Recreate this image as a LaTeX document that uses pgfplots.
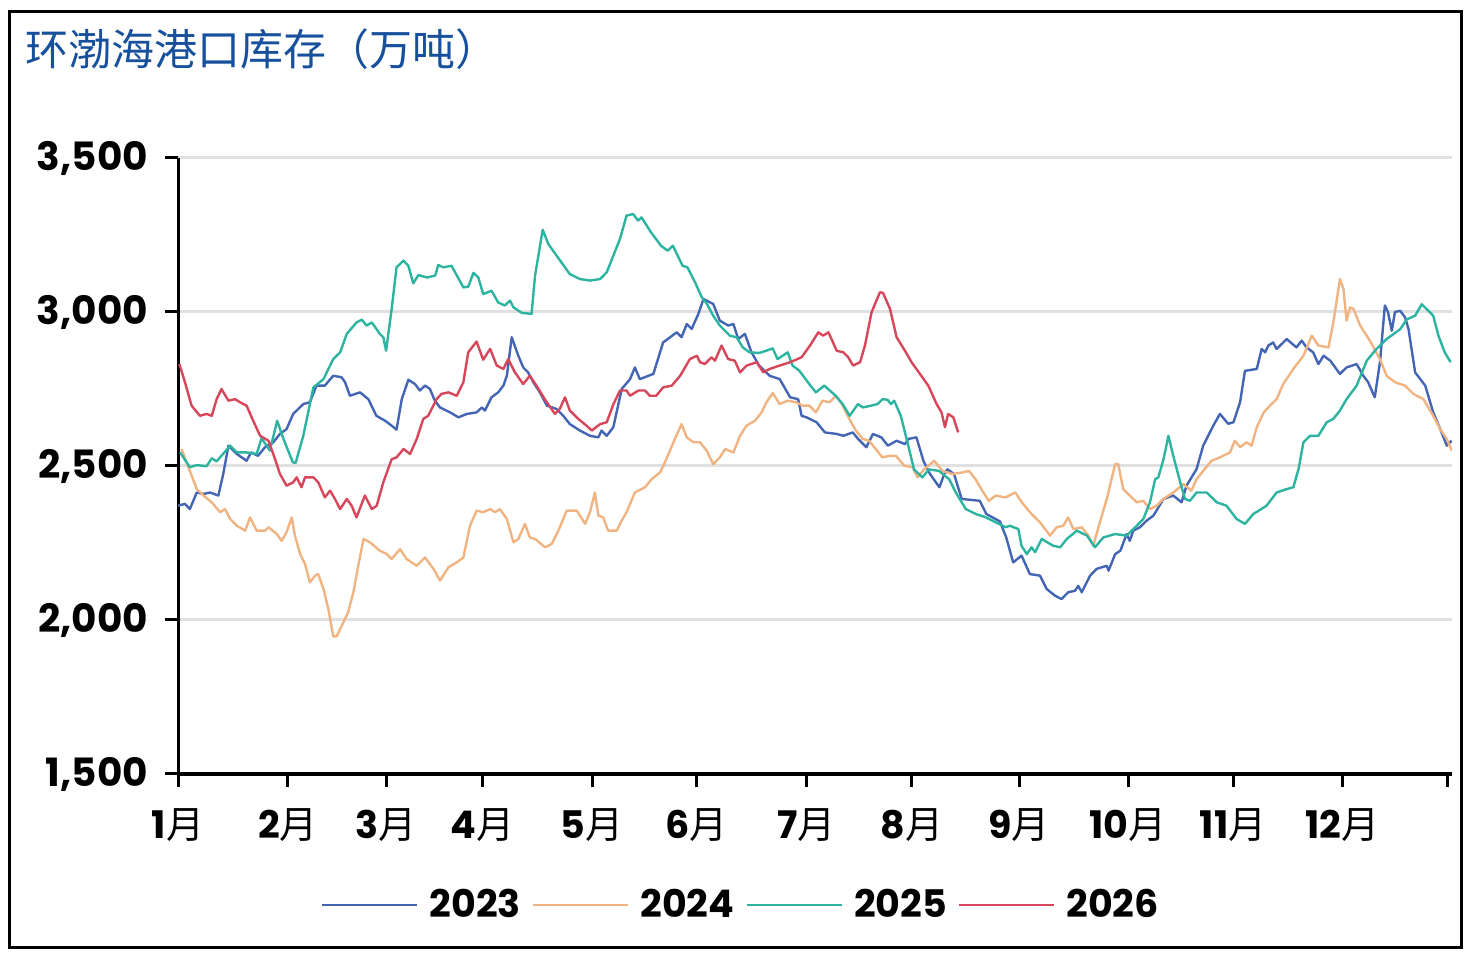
\documentclass[border=0pt]{standalone}
\usepackage{fontspec}
\setmainfont{Poppins}
\newfontfamily\cjk{Noto Sans CJK SC}
\usepackage{pgfplots}
\pgfplotsset{compat=1.18}
\usepackage{pgfplotstable}
\definecolor{c23}{HTML}{4464B4}
\definecolor{c24}{HTML}{F0B482}
\definecolor{c25}{HTML}{2DB4A0}
\definecolor{c26}{HTML}{D7465A}
\definecolor{ttl}{HTML}{17509C}
\newcommand{\m}[1]{{\bfseries #1}{\cjk 月}}

\pgfplotstableread{
x y
0 2371
2 2377
3.4 2360
5.4 2414
7.3 2409
9.2 2414
11.6 2404
13 2474
14.5 2566
16.9 2539
19.7 2517
21 2544
23 2533
25 2561
27.4 2577
29.3 2604
31.2 2620
33.1 2669
36 2701
37.9 2707
39.8 2761
42.2 2761
44.6 2793
47 2788
48 2772
49.4 2728
52.3 2739
54.7 2717
57 2663
59.5 2647
61.4 2631
62.8 2618
64.3 2717
66.2 2780
68.1 2766
69.5 2745
71 2761
72.4 2750
73.8 2712
75.3 2690
78.2 2674
80.6 2658
83 2669
85.8 2674
87.3 2690
88.2 2680
90.1 2723
92 2739
93.5 2761
94.5 2793
95.9 2918
97.8 2858
99.2 2820
100.6 2804
102.1 2772
104 2739
106 2696
108.8 2685
110.7 2663
112.6 2636
115.5 2615
118.4 2598
120.8 2593
121.7 2615
123.2 2598
125.1 2626
127.5 2750
129.9 2782
131.3 2820
132.7 2782
136.6 2799
139.4 2901
143.3 2934
144.7 2918
146.2 2961
147.6 2945
149.5 2993
151 3042
153.8 3026
155.7 2972
158.1 2956
159.6 2961
161 2912
162.9 2929
164.8 2869
167 2826
170 2793
172.9 2782
175.9 2723
178.2 2717
179.2 2663
180.6 2658
183.5 2642
185.9 2609
189.3 2604
191.2 2598
193.9 2609
195.4 2588
197.8 2561
199.7 2604
202.1 2593
204 2566
206.5 2582
208.9 2571
209.9 2588
212.2 2593
214.2 2517
216.1 2474
218.8 2431
220.2 2474
221.1 2489
223 2474
225.2 2393
230.4 2387
232.3 2344
236.2 2320
238 2268
240 2187
242.4 2209
244.8 2149
247.7 2144
249.6 2101
252 2079
253.9 2068
255.8 2090
257.8 2095
258.7 2111
259.7 2090
262.1 2144
264 2166
266.9 2176
267.4 2160
269.3 2214
270.8 2225
272.6 2279
273.5 2257
274.5 2290
276.4 2301
278.3 2322
280.3 2339
283.2 2393
286 2404
288.4 2382
289.8 2436
292.7 2490
294.6 2566
297.5 2631
299.4 2669
301.8 2637
303.3 2642
305.2 2707
306.6 2809
310 2815
311.4 2880
312.4 2869
313.3 2891
314.7 2901
315.7 2880
318.6 2912
321.4 2885
322.9 2907
324.3 2885
326.2 2869
327.7 2831
329.2 2858
331.1 2842
333.9 2799
335.8 2820
338.7 2831
340.6 2793
342 2772
343.9 2723
345.4 2837
346.8 3021
347.7 3000
348.8 2939
349.7 3000
351.2 3004
352.6 2983
353.6 2945
355.5 2804
358.4 2761
360.7 2674
362.7 2620
364.6 2566
366 2582
}\dA

\pgfplotstableread{
x y
1 2555
3 2496
5.4 2425
7.3 2404
9.7 2382
12.1 2350
13.5 2360
15 2328
16.9 2306
19.3 2290
20.7 2333
22.6 2290
25 2290
26 2301
28.4 2279
29.8 2257
31.2 2285
32.7 2333
33.6 2274
35.1 2214
36.5 2182
37.9 2122
39.4 2144
40.3 2149
41.8 2101
43.2 2036
44.6 1947
45.6 1947
47.5 1992
48.9 2025
50.4 2090
51.8 2176
53.3 2263
55.2 2252
58 2225
60 2214
61.4 2198
63.8 2230
65.7 2198
68.6 2176
71 2203
73.4 2166
75.3 2128
77.7 2171
80.1 2187
82 2203
83.9 2306
85.8 2355
87.7 2350
89.7 2360
91.1 2350
92.5 2360
94.5 2328
96.4 2252
97.8 2263
99.7 2312
101.1 2268
102.6 2263
105.5 2236
107.4 2247
109.3 2290
111.7 2355
114.6 2355
115.5 2339
117 2312
118.4 2350
119.8 2414
120.8 2339
122.2 2333
123.6 2290
126.1 2290
127 2312
128.9 2350
131.3 2414
134.2 2431
136.1 2457
138.5 2479
139.9 2511
142.8 2588
144.7 2636
146.2 2593
148.1 2577
150 2577
151.9 2550
153.8 2506
155.7 2528
157.2 2555
159.6 2544
161.5 2598
163.4 2631
165.8 2647
167.7 2674
169.1 2707
170.9 2737
172.9 2701
175.2 2712
177.6 2707
179.5 2696
181.4 2696
183.3 2674
185.2 2712
187.2 2707
189.1 2728
191 2696
192.9 2653
194.8 2615
196.7 2588
198.6 2582
200.5 2555
202.4 2528
204.4 2533
206.3 2533
208.7 2501
211.1 2496
212.5 2463
214.4 2489
217.3 2517
219.7 2484
222.5 2474
225.4 2479
227.3 2484
229.2 2457
231.1 2420
233 2387
235 2404
237.8 2398
240.6 2414
242.5 2382
244.8 2350
247.7 2317
250.6 2274
252.5 2301
254.4 2306
255.8 2333
257.3 2295
259.7 2301
261.6 2274
263 2241
264.9 2317
266.9 2393
269.3 2506
270.2 2506
271.6 2425
273.5 2404
275.5 2382
277.4 2387
279.3 2360
281.2 2371
283.2 2393
286 2414
288.9 2441
291.2 2420
292.7 2457
294.6 2484
297 2517
299.4 2528
302.3 2544
303.7 2582
305.2 2561
307.1 2577
308.5 2566
310 2626
312 2674
313.8 2696
315.7 2717
317.6 2766
320.5 2815
323.4 2858
325.8 2923
327.7 2891
330.6 2885
332 2966
333.9 3107
334.9 3075
335.8 2972
336.8 3015
337.8 3010
339.7 2956
342.5 2907
345.4 2847
347.3 2793
349.7 2772
352.6 2761
355 2734
357.9 2717
360.7 2663
362.7 2620
364.6 2588
366 2550
}\dB

\pgfplotstableread{
x y
0.6 2544
3.4 2496
5.4 2503
8.2 2499
9.7 2525
11.1 2515
15 2566
16.9 2544
19.7 2544
22.6 2539
24 2590
26.4 2550
28.5 2647
30.3 2588
33 2512
33.8 2510
36 2598
38.9 2755
41.8 2782
44.6 2847
46.6 2869
48.5 2929
51.3 2966
52.8 2975
54.2 2956
55.7 2966
58 2929
59 2918
59.8 2874
61.4 3010
62.8 3145
64.8 3167
66.2 3150
67.6 3093
69.1 3120
71.5 3112
73.9 3118
74.8 3153
76.2 3145
78.6 3150
82 3080
83.4 3082
84.9 3127
86.3 3112
87.7 3058
90.1 3069
92 3031
93.9 3021
95.4 3037
96.4 3015
98.8 2997
101.6 2994
102.6 3118
104.8 3267
106.4 3221
109.8 3167
112.6 3123
115.5 3107
118.4 3102
121.3 3107
123.2 3129
127 3237
128.9 3313
130.8 3318
132.2 3297
133.2 3307
135.9 3259
138.8 3215
140.7 3199
142.2 3215
145 3150
146.4 3145
148.6 3096
150.5 3048
152 3026
153.8 2988
155.7 2956
158.6 2923
160.5 2918
162.3 2885
164.2 2869
167 2867
169 2874
170.9 2882
172.3 2847
175.2 2869
176.6 2826
178.5 2810
181.4 2766
183.3 2739
185.7 2761
189 2728
191 2701
193 2663
195.4 2701
196.8 2690
199.2 2696
201 2701
202.5 2717
203.9 2715
204.9 2701
205.8 2712
207.7 2663
209.6 2577
211.5 2489
213.9 2463
215.8 2489
218.7 2484
221.6 2457
223.5 2414
226.4 2360
229.3 2344
232.2 2333
235 2317
237.9 2301
239 2306
241.5 2295
242.4 2241
243.9 2214
245.3 2236
246.3 2220
248.2 2263
251.5 2241
253.5 2236
255.4 2263
258.3 2290
261.2 2274
263.5 2236
265.9 2268
269.3 2279
272.6 2274
275.5 2306
277.4 2328
279.3 2382
280.8 2457
281.7 2463
283.2 2522
284.6 2598
286 2533
288 2447
289.4 2393
290.8 2387
292.7 2414
295.6 2414
298.5 2382
301.3 2371
304.2 2328
306.6 2312
309 2344
312.8 2371
315.7 2414
318.6 2425
320.5 2431
322 2490
323.4 2577
325.3 2598
327.7 2598
330.1 2642
332 2653
333.9 2680
335.8 2717
338.7 2761
341.6 2842
344.4 2880
347.3 2912
351.2 2944
353.1 2976
355.5 2988
357.4 3025
359.3 3004
360.7 2988
362.2 2923
364 2869
365.7 2837
}\dC

\pgfplotstableread{
x y
0.4 2831
2 2772
3.9 2696
6.3 2663
8.2 2669
9.7 2663
11.1 2717
12.5 2750
14.5 2712
16.4 2717
17.8 2707
19.7 2696
21.6 2647
23.6 2598
26 2582
27.9 2522
29.3 2474
31.2 2436
33.1 2447
34.1 2463
35.5 2431
36.5 2463
38.9 2463
40.3 2447
42.2 2398
43.7 2420
45.1 2393
46.6 2360
48.5 2393
49.9 2371
51.3 2333
53.7 2404
55.7 2360
57.1 2371
59 2447
61.4 2522
62.8 2528
64.8 2555
66.7 2539
68.6 2588
70.5 2653
71.9 2663
74.3 2717
75.7 2734
77.7 2739
80.1 2728
82 2772
83.4 2869
85.8 2904
87.7 2845
89.7 2880
91.6 2826
93.5 2815
94.9 2847
96.8 2804
99.2 2766
101.1 2793
103 2761
105.4 2717
108.3 2669
109.7 2685
111.2 2723
112.6 2680
115 2653
117.4 2631
118.9 2615
121.3 2636
123.2 2642
125.1 2700
127 2745
128.9 2745
129.9 2728
132.3 2745
134.2 2745
135.6 2728
137.4 2728
139.4 2755
141.9 2761
144.3 2793
147.1 2847
149.1 2858
150 2837
151.4 2831
153.3 2853
154.3 2842
156.2 2891
158.1 2847
160 2842
161.5 2804
163.4 2826
166.3 2837
168.2 2804
170 2815
172.9 2826
175.9 2837
179.2 2853
181.6 2891
184 2934
185.4 2923
186.9 2934
189.3 2874
191.2 2869
192.6 2853
194 2826
196 2837
197.4 2891
199.3 2999
201.7 3064
202.6 3062
204.6 3010
206.5 2918
208.9 2874
210.8 2837
213.2 2799
215.6 2761
218 2701
219.4 2674
220.4 2626
221.3 2669
222.8 2658
224.2 2609
}\dD

\begin{document}
\begin{tikzpicture}
\path[use as bounding box] (0,0) rectangle (733.5pt,478pt);
\draw[line width=1.75pt] (4.75pt,4.25pt) rectangle (730.75pt,472.25pt);
\node[anchor=west, text=ttl, font=\cjk\fontsize{21.5}{24}\selectfont, inner sep=0pt] at (12.5pt,453.5pt) {环渤海港口库存（万吨）};
\begin{axis}[
  at={(89pt,91pt)}, anchor=south west,
  scale only axis, width=637pt, height=308pt,
  xmin=0, xmax=366.1, ymin=1500, ymax=3500,
  axis x line=bottom, axis y line=left,
  axis line style={-, line width=1.5pt, black},
  x axis line style={line width=2pt},
  ytick={1500,2000,2500,3000,3500},
  xtick={0,31.6,59.8,87.4,119,149.1,180.7,210.9,241.7,273,303.2,334.5,364.7},
  xticklabels={\m{1},\m{2},\m{3},\m{4},\m{5},\m{6},\m{7},\m{8},\m{9},\m{10},\m{11},\m{12},{}},
  tick align=outside,
  major tick length=6.5pt,
  tick style={line width=1.5pt, black},
  ymajorgrids, grid style={line width=1.5pt, color=black!12},
  yticklabel style={font=\bfseries\fontsize{19.5}{22}\selectfont, xshift=-5pt},
  xticklabel style={font=\fontsize{19}{22}\selectfont, yshift=-7.5pt},
  legend style={at={(0.4427,-0.2127)}, anchor=center, draw=none, fill=none,
    legend columns=4, font=\bfseries\fontsize{19}{22}\selectfont,
    /tikz/every odd column/.append style={column sep=3.5pt},
    /tikz/every even column/.append style={column sep=3.5pt}},
  legend image code/.code={\draw[#1, line width=1.3pt] (0pt,0pt) -- (47.5pt,0pt);},
  every axis plot/.append style={line width=1.2pt, line join=round},
  /pgf/number format/1000 sep={,},
  /pgf/number format/assume math mode=true,
]
\addplot[c23] table[x=x,y=y] {\dA};
\addplot[c24] table[x=x,y=y] {\dB};
\addplot[c25] table[x=x,y=y] {\dC};
\addplot[c26] table[x=x,y=y] {\dD};
\legend{2023,2024,2025,2026}
\end{axis}
\end{tikzpicture}
\end{document}
